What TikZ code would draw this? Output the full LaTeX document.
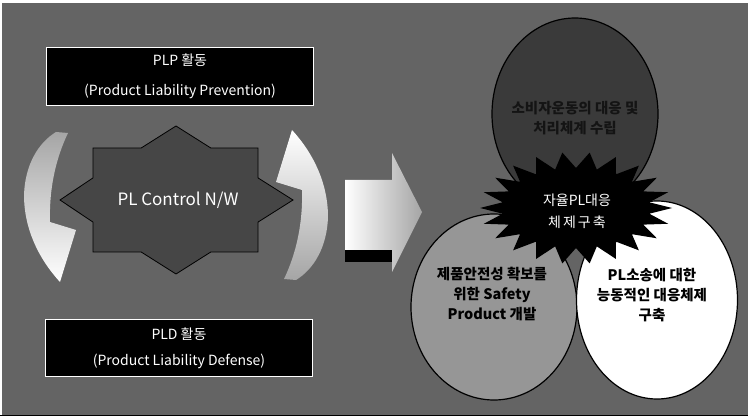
\documentclass[tikz,border=0pt]{standalone}
\usepackage{fontspec}
\setmainfont{Noto Sans CJK KR}
\usetikzlibrary{shapes.geometric}
\definecolor{bg}{RGB}{100,100,100}
\definecolor{topov}{RGB}{58,58,58}
\definecolor{llov}{RGB}{150,150,150}
\definecolor{starfill}{RGB}{70,70,70}
\definecolor{arrgray}{RGB}{165,165,165}
\definecolor{toptext}{RGB}{20,20,20}
\begin{document}
\begin{tikzpicture}[x=1pt,y=-1pt,
  box/.style={fill=black,draw=white,line width=0.6pt,text=white,align=center,inner sep=0pt,minimum width=267pt},
  oval/.style={ellipse,draw=black,line width=1.2pt,inner sep=0pt},
  ovaltext/.style={align=center,font=\fontsize{14.5}{20}\selectfont\bfseries,inner sep=0pt},
  startext/.style={align=center,text=white,font=\fontsize{14}{22}\selectfont,inner sep=0pt}]
\useasboundingbox (0,0) rectangle (748,417);
\fill[white] (0,0) rectangle (748,417);
\fill[bg] (2,3) rectangle (748,415);
\draw[black,line width=1.5pt] (0,415.5) -- (748,415.5);

% top and bottom boxes
\node[box,minimum height=58pt,font=\fontsize{14}{30}\selectfont] (plp) at (180,76) {PLP 활동\\(Product Liability Prevention)};
\node[box,minimum height=57pt,font=\fontsize{14}{26}\selectfont] (pld) at (179,348) {PLD 활동\\(Product Liability Defense)};

% curved arrows
\shade[top color=arrgray,bottom color=white]
  (68,133) .. controls (56,158) and (49,188) .. (50,222) -- (76,230) -- (60,282)
  .. controls (38,258) and (24,228) .. (24,195) .. controls (25,165) and (38,143) .. (56,132) -- cycle;
\shade[top color=white,bottom color=arrgray]
  (284,279) .. controls (296,254) and (303,224) .. (302,190) -- (276,182) -- (292,130)
  .. controls (314,154) and (328,184) .. (328,217) .. controls (327,247) and (314,269) .. (296,280) -- cycle;

% 8-point star
\filldraw[fill=starfill,draw=black,line width=0.8pt]
  (176,126) -- (210.8,148) -- (258,148) -- (258,177.9) -- (293,200) -- (258,222.1) -- (258,252)
  -- (210.8,252) -- (176,274) -- (141.2,252) -- (93,252) -- (93,222.1) -- (60,200) -- (93,177.9)
  -- (93,148) -- (141.2,148) -- cycle;
\node[text=white,font=\fontsize{17}{20}\selectfont,inner sep=0pt] (plc) at (178,200) {PL Control N/W};

% block arrow
\shade[left color=white,right color=arrgray]
  (345,180) -- (392,180) -- (392,153) -- (422,212) -- (392,272) -- (392,250) -- (345,250) -- cycle;
\fill[black] (345,250) rectangle (392,262);

% ovals
\node[oval,fill=topov,minimum width=166pt,minimum height=192pt] (otop) at (575,114) {};
\node[oval,fill=llov,minimum width=166pt,minimum height=186pt] (oleft) at (494,307) {};
\node[oval,fill=white,minimum width=161pt,minimum height=198pt] (oright) at (657,300) {};

% starburst
\fill[black] (672,208) \foreach \i in {1,...,43} {
   -- ({576+ifthenelse(mod(\i,2)==0,96,74)*cos(\i*360/44)},{208+ifthenelse(mod(\i,2)==0,56,40)*sin(\i*360/44)})
 } -- cycle;
\node[startext] (sb) at (577,211) {자율PL대응\\체\hspace{2pt}제\hspace{2pt}구\hspace{2pt}축};

% oval texts
\node[ovaltext,text=toptext] (ttop) at (575,118) {\color{toptext}소비자운동의 대응 및\\\color{toptext}처리체계 수립};
\node[ovaltext] (tleft) at (492,294) {제품안전성 확보를\\위한 Safety\\Product 개발};
\node[ovaltext] (tright) at (652,295) {PL소송에 대한\\능동적인 대응체제\\구축};
\end{tikzpicture}
\end{document}
